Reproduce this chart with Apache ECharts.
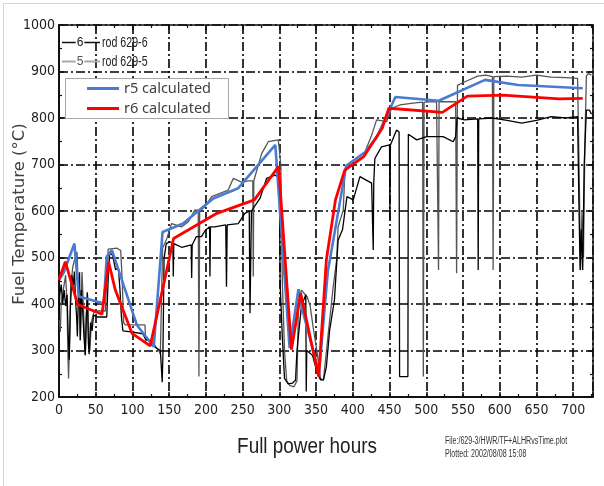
<!DOCTYPE html>
<html>
<head>
<meta charset="utf-8">
<script src="https://cdn.jsdelivr.net/npm/echarts@6/dist/echarts.min.js"></script>
<style>
html, body { margin: 0; padding: 0; background: #fff; }
#chart { width: 604px; height: 486px; }
</style>
</head>
<body>
<div id="chart"></div>
<script>
// calculated fuel temperature, [full power hours, degC]
const r5Calc = [
  [0, 452], [6, 466], [21, 530], [27, 416], [61, 401], [65, 502], [72, 516], [106, 355],
  [129, 308], [141, 555], [169, 573], [210, 627], [244, 649], [294.5, 742], [314, 305],
  [326, 432], [331, 390], [354, 252], [366, 470], [391, 697], [417, 727], [433, 760],
  [458, 845], [517, 837], [580, 882], [625, 871], [713, 864]
];
const r6Calc = [
  [0, 452], [8.6, 491], [25.4, 399], [58.5, 378], [67.6, 490], [76.7, 430], [99.4, 337],
  [124.3, 310], [156, 541], [215, 595], [266, 624], [299, 696], [316.5, 302], [329, 423],
  [353.5, 244], [364, 495], [376.4, 624], [389, 688], [415, 717], [440, 778], [449, 821],
  [522, 812], [556, 847], [604, 849], [681, 841], [713, 842]
];

const rod6 = [
  [0, 365], [1, 420], [3, 442], [5, 402], [7, 430], [9, 396], [11, 420], [12.5, 335], [14, 280],
  [15.5, 392], [17.5, 462], [19.5, 440], [21, 470], [22.5, 410], [24, 372], [25, 330], [26.5, 425],
  [28, 468], [29, 322], [30.5, 430], [32, 392], [34, 330], [35.8, 290], [37, 368], [38.5, 425],
  [40, 316], [41, 292], [43, 360], [45, 342], [47, 376], [52, 372], [62, 372], [65, 372],
  [67, 455], [69, 510], [73, 505], [77, 474], [81, 477], [83, 430], [85, 372], [87, 342],
  [98, 340], [114, 336], [118, 324], [124, 320], [130, 308], [133, 305], [138, 300],
  [140.5, 232], [141.5, 292], [143, 498], [146, 530], [151, 534], [155, 530], [155.6, 459],
  [156.3, 530], [167, 522], [180, 527], [180.6, 456], [181.3, 527], [187, 545], [194, 545],
  [199, 558], [205, 566], [205.5, 459], [206.2, 566], [212, 566], [227, 570], [228, 437],
  [229, 570], [244, 573], [253, 595], [259, 600], [260, 380], [261.5, 380], [262, 600],
  [273.6, 627], [282.6, 670], [294, 677], [300, 672], [301, 445], [304, 330], [307, 240],
  [312, 228], [318, 230], [322, 236], [324, 300], [330, 395], [336, 420], [336.6, 212],
  [337.3, 300], [345, 290], [352, 250], [356, 237], [360, 237], [364, 265], [368.5, 344],
  [375, 409], [380, 537], [386, 560], [392, 631], [400.6, 624], [409.7, 674], [425.6, 660],
  [427.8, 516], [428.5, 660], [430, 713], [439, 738], [450, 742], [450.5, 581], [451.2, 742],
  [459.6, 774], [463, 770], [463.7, 244], [475, 244], [475.6, 765], [487, 753], [500.5, 760],
  [523, 760], [536.6, 749], [540, 760], [542, 800], [552, 796], [570, 798], [570.7, 473],
  [571.4, 798], [590, 800], [610, 795], [630, 789], [650, 795], [670, 803], [690, 800],
  [706, 803], [708, 600], [709.5, 473], [711, 560], [713, 473], [715, 700], [718, 817],
  [722, 817], [725, 808]
];
const rod5 = [
  [0, 380], [1.8, 340], [3, 400], [6, 432], [9, 462], [11, 400], [12, 300], [13, 240], [14, 300],
  [16, 440], [19, 482], [22, 500], [24.5, 512], [26, 445], [27.5, 400], [29, 322], [31.3, 469],
  [33, 402], [35.8, 290], [37.5, 380], [39, 420], [40.5, 315], [42, 300], [44, 360], [47, 380],
  [50, 385], [63, 385], [65, 385], [67, 518], [79, 520], [84, 515], [86, 452], [88, 360],
  [90, 355], [117, 355], [118, 322], [124, 322], [130, 312], [133, 305], [136, 300], [138, 292],
  [141, 520], [146.6, 540], [153.3, 573], [167, 566], [176, 577], [185, 602], [189.6, 602],
  [190.5, 244], [191.5, 600], [198.7, 609], [207.8, 631], [230.4, 645], [237.2, 670],
  [248.7, 662], [258, 665], [263.8, 665], [264.5, 459], [265.2, 665], [276, 724], [285, 749],
  [298.5, 753], [301, 750], [302, 700], [304, 450], [307, 300], [310, 235], [314, 225],
  [320, 222], [324, 235], [326, 400], [330, 430], [338, 415], [342, 395], [346, 350],
  [351, 300], [356, 240], [360, 236], [366.6, 337], [373.3, 437], [378, 495], [380, 566],
  [387, 602], [389.3, 688], [400, 700], [414, 717], [425, 760], [432.4, 796], [446, 792],
  [452.8, 821], [464, 828], [482, 832], [495, 834], [496, 244], [497, 834], [514, 835],
  [516, 835], [516.7, 473], [517.4, 835], [536.6, 835], [540, 835], [541.3, 466], [542.5, 870],
  [552.6, 878], [570, 890], [581, 892], [590, 889], [591, 473], [592, 889], [610, 890],
  [630, 888], [650, 892], [670, 888], [690, 887], [706, 885], [708, 700], [710, 473],
  [712, 600], [714, 500], [716, 750], [718, 890], [720.6, 896], [725, 892]
];

const labelFont = '"DejaVu Sans Condensed", "Liberation Sans", sans-serif';
const arial = '"Liberation Sans", Arial, sans-serif';
const gridDash = { color: '#000', width: 1.6, type: [9, 3, 2, 3] };
const ink = '#111';

const chart = echarts.init(document.getElementById('chart'));

const xBase = {
  type: 'value', min: 0, max: 727, interval: 50,
  axisLine: { show: true, onZero: false, lineStyle: { color: ink, width: 2 } },
  axisTick: { show: true, inside: true, length: 5, lineStyle: { color: ink, width: 1.5 } },
  minorTick: { show: true, splitNumber: 2, length: 3, lineStyle: { color: ink, width: 1.2 } }
};
const yBase = {
  type: 'value', min: 200, max: 1000, interval: 100,
  axisLine: { show: true, onZero: false, lineStyle: { color: ink, width: 2 } },
  axisTick: { show: true, inside: true, length: 5, lineStyle: { color: ink, width: 1.5 } },
  minorTick: { show: true, splitNumber: 2, length: 3, lineStyle: { color: ink, width: 1.2 } }
};

// condensed look of the scanned lettering
function narrowText(x, y, text, size, sx, color, align) {
  return {
    type: 'text', x: x, y: y, scaleX: sx, z: 6,
    style: { text: text, fontSize: size, fontFamily: arial, fill: color,
             align: align || 'left', verticalAlign: 'middle' }
  };
}

let option = {
  animation: false,
  backgroundColor: '#fff',
  grid: { left: 59, right: 11, top: 25, bottom: 89, containLabel: false, outerBoundsMode: 'none' },
  legend: {
    data: [
      { name: 'r5 calculated', icon: 'rect' },
      { name: 'r6 calculated', icon: 'rect' }
    ],
    orient: 'vertical',
    left: 87, top: 81, padding: 0,
    itemWidth: 32, itemHeight: 3, itemGap: 5,
    textStyle: { fontFamily: '"Noto Sans", sans-serif', fontSize: 14.5, color: '#404040' },
    z: 6
  },
  xAxis: [
    Object.assign({}, xBase, {
      position: 'bottom',
      axisLabel: {
        margin: 6, fontSize: 14, color: '#222', fontFamily: labelFont,
        formatter: v => (v % 50 === 0 ? String(v) : '')
      },
      splitLine: { show: true, lineStyle: gridDash }
    }),
    Object.assign({}, xBase, {
      position: 'top',
      axisLine: { show: true, onZero: false, lineStyle: { color: ink, width: 1.5 } },
      axisLabel: { show: false },
      splitLine: { show: false }
    })
  ],
  yAxis: [
    Object.assign({}, yBase, {
      position: 'left',
      axisLabel: { margin: 4, fontSize: 14, color: '#222', fontFamily: labelFont,
                   formatter: v => String(v) },
      splitLine: { show: true, lineStyle: gridDash }
    }),
    Object.assign({}, yBase, {
      position: 'right',
      axisLine: { show: true, onZero: false, lineStyle: { color: ink, width: 1.5 } },
      axisLabel: { show: false },
      splitLine: { show: false }
    })
  ],
  graphic: [
    // scan frame
    { type: 'polyline', shape: { points: [[3.5, 486], [3.5, 3.5], [604, 3.5]] },
      style: { stroke: '#d4d4d4', lineWidth: 1, fill: null }, silent: true },
    // measured-trace key
    { type: 'line', shape: { x1: 62, y1: 42.5, x2: 100, y2: 42.5 }, style: { stroke: ink, lineWidth: 1.5 }, z: 5 },
    { type: 'text', x: 80, y: 42.5, z: 6,
      style: { text: '6', fontSize: 12, fontFamily: arial, fill: ink, align: 'center', verticalAlign: 'middle',
               backgroundColor: '#fff', padding: [0, 1] } },
    narrowText(102, 43, 'rod 629-6', 14, 0.76, '#222'),
    { type: 'line', shape: { x1: 62, y1: 61.5, x2: 100, y2: 61.5 }, style: { stroke: '#aaa', lineWidth: 2 }, z: 5 },
    { type: 'text', x: 80, y: 61.5, z: 6,
      style: { text: '5', fontSize: 12, fontFamily: arial, fill: '#555', align: 'center', verticalAlign: 'middle',
               backgroundColor: '#fff', padding: [0, 1] } },
    narrowText(102, 62, 'rod 629-5', 14, 0.76, '#222'),
    // box behind the calculated-line legend
    { type: 'rect', shape: { x: 65.5, y: 78.5, width: 163, height: 40 },
      style: { fill: '#fff', stroke: '#a8a8a8', lineWidth: 1 }, z: 5 },
    // axis titles and plot stamp
    { type: 'text', x: 20, y: 214, rotation: Math.PI / 2, z: 6,
      style: { text: 'Fuel Temperature (°C)', fontSize: 16.5, fontFamily: '"DejaVu Sans", sans-serif',
               fill: '#404040', align: 'center', verticalAlign: 'middle' } },
    narrowText(307, 447, 'Full power hours', 22, 0.86, '#222', 'center'),
    narrowText(445, 441.5, 'File:/629-3/HWR/TF+ALHRvsTime.plot', 10, 0.71, '#333'),
    narrowText(445, 454.5, 'Plotted: 2002/08/08 15:08', 10, 0.71, '#333')
  ],
  series: [
    { name: 'rod 629-5', type: 'line', data: rod5, symbol: 'none', showSymbol: false,
      lineStyle: { color: '#555', width: 1.3 }, z: 2 },
    { name: 'rod 629-6', type: 'line', data: rod6, symbol: 'none', showSymbol: false,
      lineStyle: { color: '#000', width: 1.3 }, z: 2 },
    { name: 'r5 calculated', type: 'line', data: r5Calc, symbol: 'none', showSymbol: false,
      itemStyle: { color: '#4a7bd2' }, lineStyle: { color: '#4a7bd2', width: 2.6 }, z: 3 },
    { name: 'r6 calculated', type: 'line', data: r6Calc, symbol: 'none', showSymbol: false,
      itemStyle: { color: '#ff0000' }, lineStyle: { color: '#ff0000', width: 2.8 }, z: 4 }
  ]
};

chart.setOption(option);
</script>
</body>
</html>
